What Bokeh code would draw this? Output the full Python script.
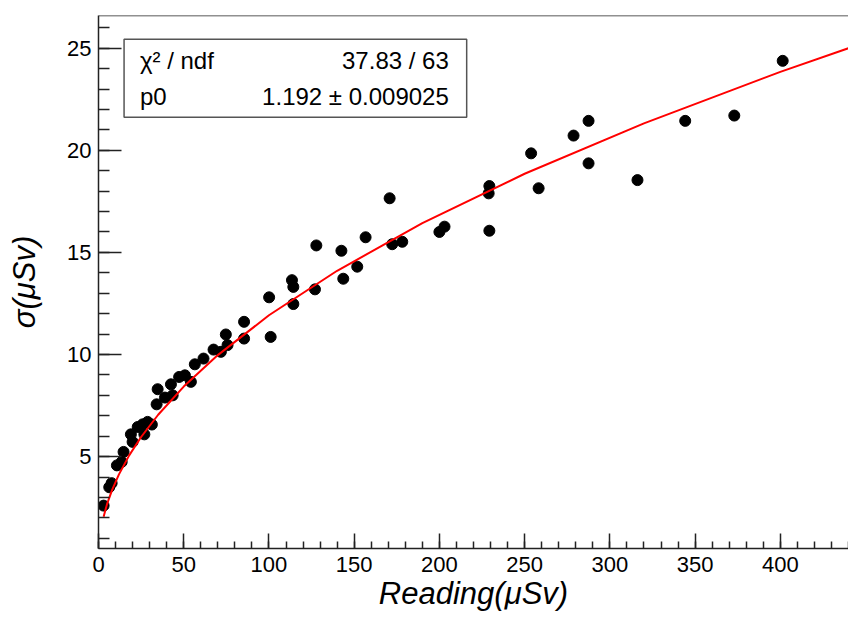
from bokeh.plotting import figure
from bokeh.models import (Range1d, SingleIntervalTicker, Span, BoxAnnotation,
                          Label, ColumnDataSource)
from bokeh.embed import file_html
from bokeh.resources import INLINE

# ---- data ----
reading = [3.0, 6.3, 7.7, 10.8, 13.6, 14.7, 19.0, 20.0, 23.0, 25.9, 26.9, 28.8,
           31.3, 34.7, 34.1, 39.0, 42.5, 43.5, 47.3, 50.7, 54.2, 56.5, 61.6,
           67.5, 71.8, 74.7, 75.7, 85.4, 85.4, 100.1, 101.0, 113.5, 114.3,
           114.3, 127.0, 127.8, 142.5, 143.6, 151.8, 156.7, 170.8, 172.3,
           178.2, 200.0, 203.0, 228.9, 229.3, 229.3, 253.8, 258.2, 278.7,
           287.5, 287.5, 316.2, 344.2, 373.0, 401.4]
sigma = [2.6, 3.5, 3.7, 4.57, 4.74, 5.23, 6.09, 5.72, 6.45, 6.58, 6.09, 6.7,
         6.57, 8.3, 7.56, 7.89, 8.54, 8.0, 8.9, 8.98, 8.66, 9.52, 9.8,
         10.24, 10.13, 10.98, 10.46, 11.6, 10.78, 12.8, 10.86, 13.64, 13.31,
         12.47, 13.19, 15.34, 15.08, 13.71, 14.3, 15.74, 17.65, 15.4,
         15.52, 16.0, 16.26, 17.89, 18.25, 16.06, 19.85, 18.14, 20.72,
         21.44, 19.36, 18.54, 21.44, 21.7, 24.38]

# fitted curve
fit_x = [3, 5, 8, 12, 18, 25, 35, 50, 70, 100, 140, 190, 250, 320, 400, 440]
fit_y = [2.06, 2.67, 3.37, 4.13, 5.06, 5.96, 7.05, 8.43, 9.97, 11.92, 14.10,
         16.43, 18.85, 21.32, 23.84, 25.0]

stat_names = ["\u03c7\u00b2 / ndf", "p0"]
stat_values = ["37.83 / 63", "1.192 \u00b1 0.009025"]

x_title = "Reading(\u03bcSv)"
y_title = "\u03c3(\u03bcSv)"

FONT = "Liberation Sans"

p = figure(width=848, height=617, x_range=Range1d(0, 440),
           y_range=Range1d(0.5, 26.6), output_backend="svg",
           toolbar_location=None, min_border_left=98, min_border_top=15,
           min_border_bottom=69, min_border_right=0)
p.outline_line_color = None
p.grid.visible = False
p.background_fill_color = "white"
p.border_fill_color = "white"

for ax, interval, maj, mnr, ls, als in ((p.xaxis[0], 50, 15, 7, 8, 1),
                                        (p.yaxis[0], 5, 23, 11, 7, 22)):
    ax.ticker = SingleIntervalTicker(interval=interval, num_minor_ticks=5)
    ax.major_tick_in = maj
    ax.major_tick_out = 0
    ax.minor_tick_in = mnr
    ax.minor_tick_out = 0
    ax.axis_line_color = "#222222"
    ax.major_tick_line_color = "#222222"
    ax.minor_tick_line_color = "#222222"
    ax.axis_line_width = 1.5
    ax.major_tick_line_width = 1.5
    ax.minor_tick_line_width = 1.5
    ax.major_label_text_font = FONT
    ax.major_label_text_font_size = "22px"
    ax.major_label_text_color = "black"
    ax.major_label_standoff = ls
    ax.axis_label_text_font = FONT
    ax.axis_label_text_font_size = "31px"
    ax.axis_label_text_font_style = "italic"
    ax.axis_label_text_color = "black"
    ax.axis_label_standoff = als

p.xaxis[0].axis_label = x_title
p.yaxis[0].axis_label = y_title

# top frame line
p.add_layout(Span(location=26.6, dimension="width", line_color="#222222",
                  line_width=1.5))

src = ColumnDataSource(dict(x=reading, y=sigma))
p.scatter("x", "y", source=src, size=11, color="black")
p.line(fit_x, fit_y, line_color="#ff0000", line_width=2)

# stats box
p.add_layout(BoxAnnotation(left=15, right=216, top=25.44, bottom=21.62,
                           fill_color="white", fill_alpha=1.0,
                           line_color="#555555", line_width=1.5,
                           line_alpha=1.0))
rows_y = [24.38, 22.61]
for name, val, yy in zip(stat_names, stat_values, rows_y):
    p.add_layout(Label(x=24.3, y=yy, text=name, text_font=FONT,
                       text_font_size="24px", text_baseline="middle",
                       text_align="left", text_color="black"))
    p.add_layout(Label(x=205.5, y=yy, text=val, text_font=FONT,
                       text_font_size="24px", text_baseline="middle",
                       text_align="right", text_color="black"))

open("out.html", "w").write(file_html(p, INLINE))
